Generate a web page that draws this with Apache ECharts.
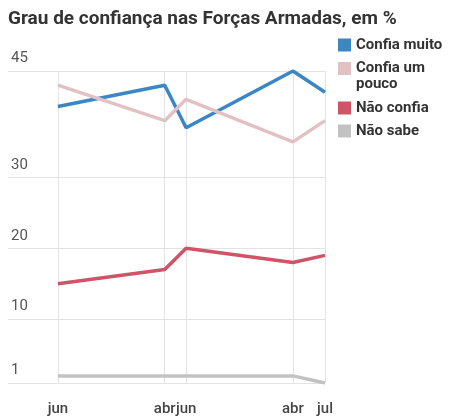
<!DOCTYPE html>
<html>
<head>
<meta charset="utf-8">
<script src="https://cdn.jsdelivr.net/npm/echarts@6/dist/echarts.min.js"></script>
<style>
html,body{margin:0;padding:0;background:#fff;}
#chart{width:450px;height:417px;}
</style>
</head>
<body>
<div id="chart"></div>
<script>
// Data
const titleText = 'Grau de confiança nas Forças Armadas, em %';
const dates = ['2017-06', '2018-04', '2018-06', '2019-04', '2019-07'];
const dateLabels = ['jun', 'abr', 'jun', 'abr', 'jul'];
const seriesNames = ['Confia muito', 'Confia um pouco', 'Não confia', 'Não sabe'];
const confiaMuito = [40, 43, 37, 45, 42];
const confiaUmPouco = [43, 38, 41, 35, 38];
const naoConfia = [15, 17, 20, 18, 19];
const naoSabe = [2, 2, 2, 2, 1];
const yTicks = [1, 10, 20, 30, 45];

const colors = ['#3a87c4', '#e2c1c5', '#cf5468', '#c2c2c2'];

// months since first poll
function monthIndex(d) {
  const [y, m] = d.split('-').map(Number);
  const [y0, m0] = dates[0].split('-').map(Number);
  return (y - y0) * 12 + (m - m0);
}
const xs = dates.map(monthIndex);
const labelMap = {};
xs.forEach((x, i) => { labelMap[x] = dateLabels[i]; });

const values = [confiaMuito, confiaUmPouco, naoConfia, naoSabe];

const chart = echarts.init(document.getElementById('chart'), null, {renderer: 'canvas'});
const fontFamily = 'Roboto, sans-serif';
const legendBase = {
  orient: 'vertical',
  left: 338,
  itemWidth: 13,
  itemHeight: 13,
  itemGap: 7,
  icon: 'rect',
  selectedMode: false,
  padding: 0,
  textStyle: {fontFamily, fontSize: 15, fontWeight: 'bold', color: '#333', lineHeight: 16}
};
chart.setOption({
  animation: false,
  textStyle: {fontFamily},
  title: {
    text: titleText,
    left: 8,
    top: 10,
    padding: 0,
    textStyle: {fontFamily, fontSize: 19, fontWeight: 'bold', color: '#333'}
  },
  legend: [
    Object.assign({}, legendBase, {data: [seriesNames[0]], top: 37}),
    Object.assign({}, legendBase, {
      data: [seriesNames[1]], top: 60, itemHeight: 28,
      icon: 'path://M0,0H13V13H0Z M0,28',
      formatter: () => 'Confia um\npouco'
    }),
    Object.assign({}, legendBase, {data: [seriesNames[2], seriesNames[3]], top: 100})
  ],
  grid: {left: 8, right: 125, top: 71, bottom: 33, containLabel: false},
  xAxis: {
    type: 'value',
    min: -4.67,
    max: xs[xs.length - 1],
    axisLine: {show: false},
    axisTick: {show: false, customValues: xs},
    axisLabel: {
      customValues: xs,
      formatter: v => labelMap[v] || '',
      margin: 19,
      fontFamily, fontSize: 15, fontWeight: 500, color: '#444'
    },
    splitLine: {show: true, lineStyle: {color: '#e3e3e3', width: 1}}
  },
  yAxis: {
    type: 'value',
    min: 1,
    max: 45,
    axisLine: {show: false},
    axisTick: {show: false, customValues: yTicks},
    axisLabel: {
      customValues: yTicks,
      inside: true,
      margin: 3,
      verticalAlign: 'bottom',
      padding: [0, 0, 5, 0],
      fontFamily, fontSize: 15, color: '#555'
    },
    splitLine: {show: true, lineStyle: {color: '#e3e3e3', width: 1}}
  },
  series: values.map((arr, i) => ({
    name: seriesNames[i],
    type: 'line',
    data: arr.map((v, j) => [xs[j], v]),
    showSymbol: false,
    symbol: 'none',
    color: colors[i],
    lineStyle: {width: 3.5, color: colors[i]},
    z: 2 + i
  }))
});
</script>
</body>
</html>
